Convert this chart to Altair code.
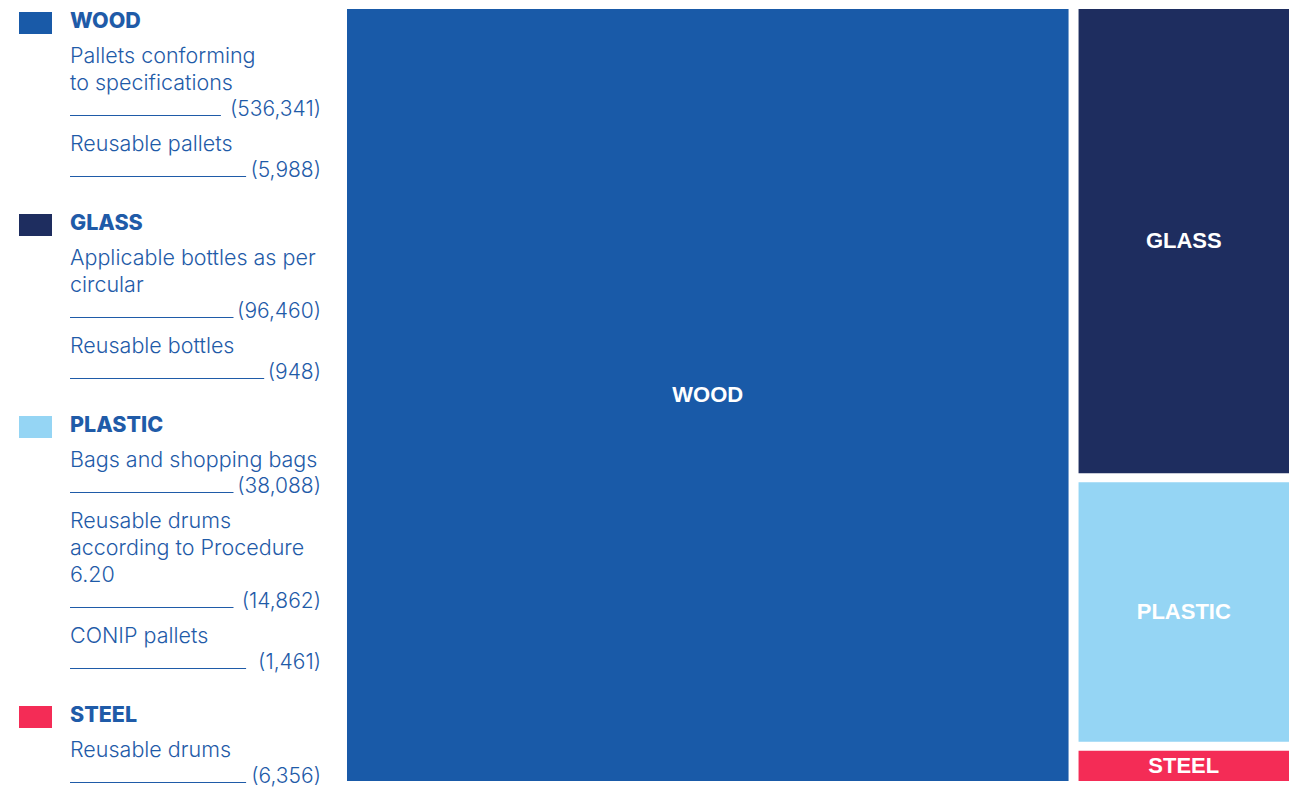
import altair as alt
import pandas as pd

# ---------------- data ----------------
categories = ["WOOD", "GLASS", "PLASTIC", "STEEL"]
item_labels = [
    [["Pallets conforming", "to specifications"], ["Reusable pallets"]],
    [["Applicable bottles as per", "circular"], ["Reusable bottles"]],
    [["Bags and shopping bags"], ["Reusable drums", "according to Procedure", "6.20"], ["CONIP pallets"]],
    [["Reusable drums"]],
]
item_values = [
    [536341, 5988],
    [96460, 948],
    [38088, 14862, 1461],
    [6356],
]
palette = ["#195AA8", "#1E2D5F", "#95D5F4", "#F42C56"]
text_blue = "#1F5BA8"

# ---------------- layout (pixels in chart space) ----------------
W, H = 1281, 779
TM_X0, TM_X1, TM_Y0, TM_Y1 = 339, 1281, 1, 773
GAP_X, GAP_Y = 10, 9

totals = [sum(v) for v in item_values]
grand = sum(totals)

# slice-and-dice treemap: first category as a column, the rest stacked in a second column
rects = []
avail_w = (TM_X1 - TM_X0) - GAP_X
w0 = avail_w * totals[0] / grand
rects.append(dict(cat=categories[0], x0=TM_X0, x1=TM_X0 + w0, y0=TM_Y0, y1=TM_Y1))
cx0 = TM_X0 + w0 + GAP_X
rest = totals[1:]
avail_h = (TM_Y1 - TM_Y0) - GAP_Y * (len(rest) - 1)
cy = TM_Y0
for cat, t in zip(categories[1:], rest):
    h = avail_h * t / sum(rest)
    rects.append(dict(cat=cat, x0=cx0, x1=TM_X1, y0=cy, y1=cy + h))
    cy += h + GAP_Y
rect_df = pd.DataFrame(rects)
rect_df["xc"] = (rect_df.x0 + rect_df.x1) / 2
rect_df["yc"] = (rect_df.y0 + rect_df.y1) / 2


def text_width(s):
    w = 0.0
    for ch in s:
        if ch.isdigit():
            w += 12.6
        elif ch in "()":
            w += 7.0
        else:
            w += 5.5
    return w


# legend panel
squares, headers, lines, values, rules = [], [], [], [], []
TX = 62
RIGHT = 313
DY = 2  # text vertical nudge
y = 12
for ci, cat in enumerate(categories):
    squares.append(dict(cat=cat, x0=11, x1=44, y0=y - 8, y1=y + 14))
    headers.append(dict(t=cat, x=TX, y=y + DY))
    y += 35
    for ii, (lbl, val) in enumerate(zip(item_labels[ci], item_values[ci])):
        for ln in lbl:
            lines.append(dict(t=ln, x=TX, y=y + DY))
            y += 27
        s = "({:,})".format(val)
        values.append(dict(t=s, x=RIGHT, y=y + 1))
        rules.append(dict(x0=TX, x1=RIGHT - text_width(s) - 5, y=y + 6.5))
        if ii < len(item_values[ci]) - 1:
            y += 34
        else:
            y += 52

xs = alt.Scale(domain=[0, W], nice=False, zero=False)
ys = alt.Scale(domain=[0, H], nice=False, zero=False, reverse=True)
cs = alt.Scale(domain=categories, range=palette)

treemap = alt.Chart(rect_df).mark_rect().encode(
    x=alt.X("x0:Q", scale=xs, axis=None), x2="x1:Q",
    y=alt.Y("y0:Q", scale=ys, axis=None), y2="y1:Q",
    color=alt.Color("cat:N", scale=cs, legend=None),
)
tm_labels = alt.Chart(rect_df).mark_text(
    font="Liberation Sans", fontWeight="bold", fontSize=22, color="white",
    align="center", baseline="middle",
).encode(x=alt.X("xc:Q", scale=xs, axis=None), y=alt.Y("yc:Q", scale=ys, axis=None), text="cat:N")

sq = alt.Chart(pd.DataFrame(squares)).mark_rect().encode(
    x=alt.X("x0:Q", scale=xs, axis=None), x2="x1:Q",
    y=alt.Y("y0:Q", scale=ys, axis=None), y2="y1:Q",
    color=alt.Color("cat:N", scale=cs, legend=None),
)
hdr = alt.Chart(pd.DataFrame(headers)).mark_text(
    font="Inter", fontWeight=800, fontSize=21.5, color=text_blue, align="left", baseline="middle",
).encode(x=alt.X("x:Q", scale=xs, axis=None), y=alt.Y("y:Q", scale=ys, axis=None), text="t:N")
body = alt.Chart(pd.DataFrame(lines)).mark_text(
    font="Inter", fontWeight=300, fontSize=21.5, color=text_blue, align="left", baseline="middle",
).encode(x=alt.X("x:Q", scale=xs, axis=None), y=alt.Y("y:Q", scale=ys, axis=None), text="t:N")
vals = alt.Chart(pd.DataFrame(values)).mark_text(
    font="Inter", fontWeight=300, fontSize=21, color=text_blue, align="right", baseline="middle",
).encode(x=alt.X("x:Q", scale=xs, axis=None), y=alt.Y("y:Q", scale=ys, axis=None), text="t:N")
rl = alt.Chart(pd.DataFrame(rules)).mark_rule(color=text_blue, strokeWidth=1).encode(
    x=alt.X("x0:Q", scale=xs, axis=None), x2="x1:Q",
    y=alt.Y("y:Q", scale=ys, axis=None),
)

chart = alt.layer(treemap, tm_labels, sq, hdr, body, vals, rl).properties(
    width=W, height=H, padding=0, autosize=alt.AutoSizeParams(type="none"),
).configure_view(stroke=None)

chart.save("out.html", embed_options={"renderer": "svg", "actions": False})
